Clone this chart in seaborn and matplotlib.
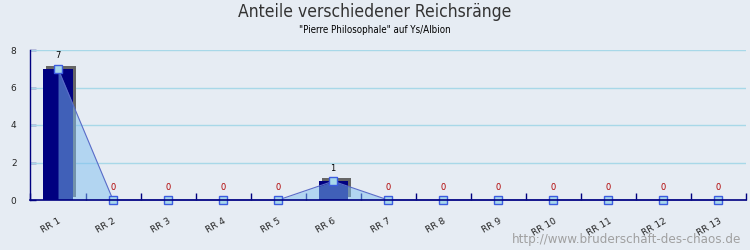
import matplotlib
matplotlib.use("Agg")
import matplotlib.pyplot as plt
import matplotlib.transforms as mtransforms
import seaborn as sns
import numpy as np
import pandas as pd

categories = ["RR 1", "RR 2", "RR 3", "RR 4", "RR 5", "RR 6", "RR 7",
              "RR 8", "RR 9", "RR 10", "RR 11", "RR 12", "RR 13"]
values = [7, 0, 0, 0, 0, 1, 0, 0, 0, 0, 0, 0, 0]
yticks = [0, 2, 4, 6, 8]
title = "Anteile verschiedener Reichsränge"
subtitle = "\"Pierre Philosophale\" auf Ys/Albion"
watermark = "http://www.bruderschaft-des-chaos.de"

bg = "#e6ecf3"
df = pd.DataFrame({"cat": categories, "val": values})

sns.set_theme(style="white")
plt.rcParams["font.family"] = ["DejaVu Sans"]

fig = plt.figure(figsize=(7.5, 2.5), dpi=100, facecolor=bg)
ax = fig.add_axes([30.5 / 750, 0.2, 715.5 / 750, 0.6])
ax.set_facecolor(bg)

# shadow bars
sns.barplot(data=df, x="cat", y="val", color="#666666", width=0.53,
            saturation=1, ax=ax, zorder=2)
n_shadow = len(ax.patches)
off = mtransforms.ScaledTranslation(3 / 100, 3 / 100, fig.dpi_scale_trans)
for p in ax.patches[:n_shadow]:
    p.set_transform(ax.transData + off)
    p.set_edgecolor("none")
    p.set_clip_on(False)
    if p.get_height() == 0:
        p.set_visible(False)

# main bars
sns.barplot(data=df, x="cat", y="val", color="#000080", width=0.53,
            saturation=1, ax=ax, zorder=3)
for p in ax.patches[n_shadow:]:
    p.set_edgecolor("none")
    if p.get_height() == 0:
        p.set_visible(False)

xs = np.arange(len(categories))
ax.fill_between(xs, values, 0, color="#80c0f0", alpha=0.5, lw=0, zorder=4)
sns.lineplot(x=xs, y=values, ax=ax, color="#5a6cc8", lw=0.8, zorder=5,
             marker="s", markersize=6, markerfacecolor="#a8d8ea",
             markeredgecolor="#3c5ce0", markeredgewidth=1, clip_on=False)

for i, v in enumerate(values):
    ax.annotate(str(v), (i, v), xytext=(0, 6), textcoords="offset points",
                ha="center", va="bottom", fontsize=6,
                color="black" if v > 0 else "#b00000", zorder=6)

ax.set_xlim(-0.5, len(categories) - 0.5)
ax.set_ylim(0, 8)
ax.set_yticks(yticks)
ax.set_yticklabels([str(t) for t in yticks], fontsize=6.5)
ax.set_xticks(xs)
ax.set_xticklabels(categories, fontsize=6.5, rotation=30, ha="right",
                   rotation_mode="anchor")
ax.tick_params(axis="x", length=0, pad=12)
ax.set_xticks(np.arange(len(categories) + 1) - 0.5, minor=True)
ax.tick_params(axis="x", which="minor", direction="in", length=5,
               color="#000080", width=1, bottom=True)
ax.tick_params(axis="y", direction="in", length=4, color="#000080",
               width=1, left=True, pad=10)
ax.set_xlabel("")
ax.set_ylabel("")
for t in yticks[1:]:
    ax.axhline(t, color="#a8d8e8", lw=1, zorder=1)
for s in ["top", "right"]:
    ax.spines[s].set_visible(False)
ax.spines["left"].set_color("#000080")
ax.spines["bottom"].set_color("#000080")
ax.spines["left"].set_linewidth(1)
ax.spines["bottom"].set_linewidth(1.2)
ax.spines["bottom"].set_zorder(7)

fig.text(0.5, 1 - 12 / 250, title, ha="center", va="center", fontsize=12.5,
         fontstretch="condensed", color="#333333")
fig.text(0.5, 1 - 30 / 250, subtitle, ha="center", va="center", fontsize=7,
         fontstretch="condensed", color="black")
fig.text(741 / 750, 1 - 239 / 250, watermark, ha="right", va="center",
         fontsize=9.5, fontstretch="condensed", color="#a0a0a0")

fig.savefig("out.png", dpi=100, facecolor=bg)
